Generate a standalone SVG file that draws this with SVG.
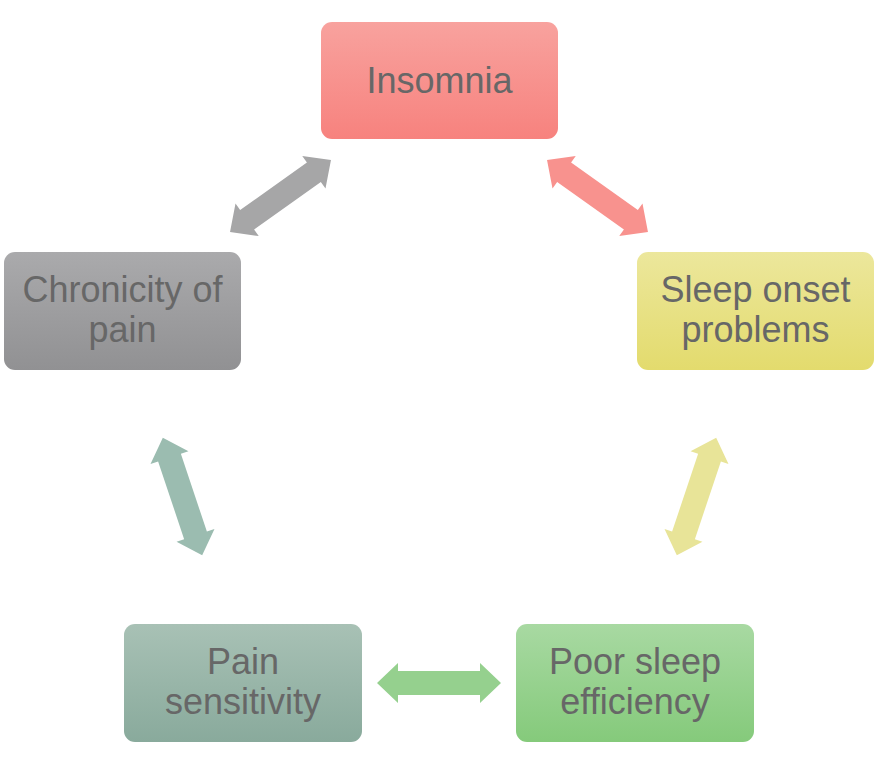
<svg xmlns="http://www.w3.org/2000/svg" width="886" height="762" viewBox="0 0 886 762">
  <defs>
    <linearGradient id="gRed" x1="0" y1="0" x2="0" y2="1">
      <stop offset="0" stop-color="#f8a29e"/>
      <stop offset="1" stop-color="#f7827e"/>
    </linearGradient>
    <linearGradient id="gGray" x1="0" y1="0" x2="0" y2="1">
      <stop offset="0" stop-color="#aaaaac"/>
      <stop offset="1" stop-color="#919193"/>
    </linearGradient>
    <linearGradient id="gYellow" x1="0" y1="0" x2="0" y2="1">
      <stop offset="0" stop-color="#ece79c"/>
      <stop offset="1" stop-color="#e3db6d"/>
    </linearGradient>
    <linearGradient id="gTeal" x1="0" y1="0" x2="0" y2="1">
      <stop offset="0" stop-color="#a8c1b5"/>
      <stop offset="1" stop-color="#89aa9c"/>
    </linearGradient>
    <linearGradient id="gGreen" x1="0" y1="0" x2="0" y2="1">
      <stop offset="0" stop-color="#a8d9a2"/>
      <stop offset="1" stop-color="#85ca7b"/>
    </linearGradient>
    <path id="dblArrow" d="M -62 0 L -41 -20 L -41 -12 L 41 -12 L 41 -20 L 62 0 L 41 20 L 41 12 L -41 12 L -41 20 Z"/>
  </defs>
  <style>
    .box { stroke: none; }
    .lbl { font-family: "Liberation Sans", Arial, Helvetica, sans-serif; font-size: 36px; fill: #676767; text-anchor: middle; }
  </style>
  <rect width="886" height="762" fill="#ffffff"/>

  <g id="connectors">
    <use href="#dblArrow" transform="translate(280.5,196) rotate(-35.5)" fill="#a6a6a7"/>
    <use href="#dblArrow" transform="translate(597.5,196) rotate(35.5)" fill="#f8928e"/>
    <use href="#dblArrow" transform="translate(696.5,496.5) rotate(-71.5)" fill="#e8e498"/>
    <use href="#dblArrow" transform="translate(182.5,496.5) rotate(71.5)" fill="#9bbcb0"/>
    <use href="#dblArrow" transform="translate(439,683)" fill="#95d08e"/>
  </g>

  <g id="insomnia">
    <rect class="box" x="321" y="22" width="237" height="117" rx="11" fill="url(#gRed)"/>
    <text class="lbl" x="439.5" y="93">Insomnia</text>
  </g>

  <g id="chronicity">
    <rect class="box" x="4" y="252" width="237" height="118" rx="11" fill="url(#gGray)"/>
    <text class="lbl" x="122.5" y="302">Chronicity of</text>
    <text class="lbl" x="122.5" y="342">pain</text>
  </g>

  <g id="sleep-onset">
    <rect class="box" x="637" y="252" width="237" height="118" rx="11" fill="url(#gYellow)"/>
    <text class="lbl" x="755.5" y="302">Sleep onset</text>
    <text class="lbl" x="755.5" y="342">problems</text>
  </g>

  <g id="pain-sensitivity">
    <rect class="box" x="124" y="624" width="238" height="118" rx="11" fill="url(#gTeal)"/>
    <text class="lbl" x="243" y="674">Pain</text>
    <text class="lbl" x="243" y="714">sensitivity</text>
  </g>

  <g id="poor-sleep">
    <rect class="box" x="516" y="624" width="238" height="118" rx="11" fill="url(#gGreen)"/>
    <text class="lbl" x="635" y="674">Poor sleep</text>
    <text class="lbl" x="635" y="714">efficiency</text>
  </g>
</svg>
